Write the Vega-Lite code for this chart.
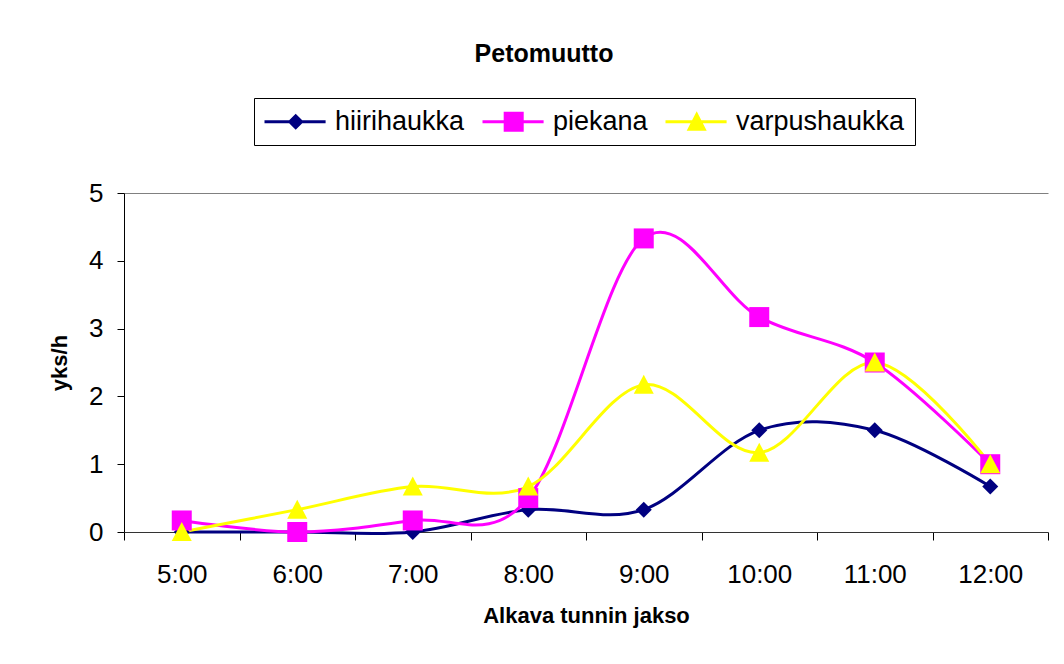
{
  "$schema": "https://vega.github.io/schema/vega-lite/v6.json",
  "autosize": {"type": "none"},
  "width": 924,
  "height": 339,
  "padding": {"left": 124, "top": 193, "right": 16, "bottom": 132},
  "background": "white",
  "title": {
    "text": "Petomuutto",
    "frame": "group",
    "anchor": "middle",
    "baseline": "alphabetic",
    "offset": 11,
    "dx": -42,
    "font": "Liberation Sans",
    "fontSize": 25,
    "fontWeight": "bold",
    "color": "black"
  },
  "config": {
    "view": {"stroke": null},
    "font": "Liberation Sans",
    "axis": {
      "labelFont": "Liberation Sans",
      "titleFont": "Liberation Sans",
      "labelColor": "black",
      "titleColor": "black",
      "domainColor": "black",
      "tickColor": "black"
    }
  },
  "data": {
    "values": [
      {"aika": "5:00", "laji": "hiirihaukka", "arvo": 0},
      {"aika": "6:00", "laji": "hiirihaukka", "arvo": 0},
      {"aika": "7:00", "laji": "hiirihaukka", "arvo": 0},
      {"aika": "8:00", "laji": "hiirihaukka", "arvo": 0.33},
      {"aika": "9:00", "laji": "hiirihaukka", "arvo": 0.33},
      {"aika": "10:00", "laji": "hiirihaukka", "arvo": 1.5},
      {"aika": "11:00", "laji": "hiirihaukka", "arvo": 1.5},
      {"aika": "12:00", "laji": "hiirihaukka", "arvo": 0.67},
      {"aika": "5:00", "laji": "piekana", "arvo": 0.17},
      {"aika": "6:00", "laji": "piekana", "arvo": 0},
      {"aika": "7:00", "laji": "piekana", "arvo": 0.17},
      {"aika": "8:00", "laji": "piekana", "arvo": 0.5},
      {"aika": "9:00", "laji": "piekana", "arvo": 4.33},
      {"aika": "10:00", "laji": "piekana", "arvo": 3.17},
      {"aika": "11:00", "laji": "piekana", "arvo": 2.5},
      {"aika": "12:00", "laji": "piekana", "arvo": 1},
      {"aika": "5:00", "laji": "varpushaukka", "arvo": 0},
      {"aika": "6:00", "laji": "varpushaukka", "arvo": 0.33},
      {"aika": "7:00", "laji": "varpushaukka", "arvo": 0.67},
      {"aika": "8:00", "laji": "varpushaukka", "arvo": 0.67},
      {"aika": "9:00", "laji": "varpushaukka", "arvo": 2.17},
      {"aika": "10:00", "laji": "varpushaukka", "arvo": 1.17},
      {"aika": "11:00", "laji": "varpushaukka", "arvo": 2.5},
      {"aika": "12:00", "laji": "varpushaukka", "arvo": 1}
    ]
  },
  "encoding": {
    "x": {
      "field": "aika",
      "type": "ordinal",
      "sort": ["5:00", "6:00", "7:00", "8:00", "9:00", "10:00", "11:00", "12:00"],
      "scale": {"paddingInner": 0, "paddingOuter": 0},
      "axis": {
        "title": "Alkava tunnin jakso",
        "labelAngle": 0,
        "labelFontSize": 26,
        "labelPadding": 21,
        "tickSize": 8,
        "tickBand": "extent",
        "titleFontSize": 22,
        "titleFontWeight": "bold",
        "titlePadding": 18,
        "domainColor": "#333333"
      }
    },
    "y": {
      "field": "arvo",
      "type": "quantitative",
      "scale": {"domain": [0, 5], "nice": false},
      "axis": {
        "title": "yks/h",
        "values": [0, 1, 2, 3, 4, 5],
        "labelFontSize": 26,
        "labelPadding": 14,
        "tickSize": 7,
        "titleFontSize": 22,
        "titleFontWeight": "bold",
        "titlePadding": 17,
        "grid": true,
        "gridColor": "#808080",
        "gridOpacity": {"condition": {"test": "datum.value === 5", "value": 1}, "value": 0}
      }
    },
    "color": {
      "field": "laji",
      "type": "nominal",
      "scale": {
        "domain": ["hiirihaukka", "piekana", "varpushaukka"],
        "range": ["#000080", "#FF00FF", "#FFFF00"]
      },
      "legend": {
        "title": null,
        "orient": "none",
        "direction": "horizontal",
        "columns": 3,
        "legendX": 130,
        "legendY": -95,
        "strokeColor": "black",
        "padding": 10,
        "labelFont": "Liberation Sans",
        "labelFontSize": 27,
        "labelColor": "black",
        "labelLimit": 400,
        "labelOffset": 44,
        "columnPadding": 17,
        "symbolSize": 676,
        "symbolStrokeWidth": 0,
        "encode": {
          "symbols": {
            "update": {
              "shape": {"signal": "datum.value === 'hiirihaukka' ? 'M-1,-0.115H3.7V0.115H-1Z M0.78,0L1.4,-0.62L2.02,0L1.4,0.62Z' : datum.value === 'piekana' ? 'M-1,-0.115H3.7V0.115H-1Z M0.63,-0.77H2.17V0.77H0.63Z' : 'M-1,-0.115H3.7V0.115H-1Z M0.63,0.7L1.4,-0.8L2.17,0.7Z'"},
              "size": {"value": 676},
              "fill": {"scale": "color", "field": "value"},
              "stroke": {"value": "transparent"},
              "strokeWidth": {"value": 0},
              "opacity": {"value": 1}
            }
          }
        }
      }
    }
  },
  "layer": [
    {
      "mark": {"type": "line", "interpolate": "cardinal", "strokeWidth": 3}
    },
    {
      "transform": [{"filter": "datum.laji === 'hiirihaukka'"}],
      "mark": {"type": "point", "filled": true, "opacity": 1, "size": 400, "shape": "M-0.8,0L0,-0.8L0.8,0L0,0.8Z"}
    },
    {
      "transform": [{"filter": "datum.laji === 'piekana'"}],
      "mark": {"type": "point", "filled": true, "opacity": 1, "size": 400, "shape": "square"}
    },
    {
      "transform": [{"filter": "datum.laji === 'varpushaukka'"}],
      "mark": {"type": "point", "filled": true, "opacity": 1, "size": 400, "shape": "M-1,0.9L0,-1L1,0.9Z"}
    }
  ]
}
